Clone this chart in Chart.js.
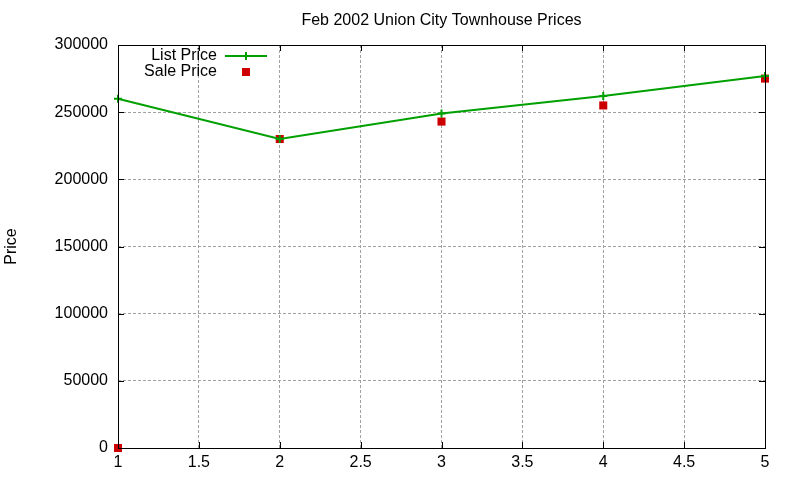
<!DOCTYPE html>
<html>
<head>
<meta charset="utf-8">
<script src="https://cdn.jsdelivr.net/npm/chart.js@4"></script>
<style>
  html, body { margin: 0; padding: 0; background: #fff; }
</style>
</head>
<body>
<canvas id="myChart" width="800" height="480"></canvas>
<script>
// data
const xValues = [1, 2, 3, 4, 5];
const listPrice = [260000, 230000, 249000, 262000, 277000];
const salePrice = [0, 230000, 243000, 255000, 275000];
const seriesNames = ['List Price', 'Sale Price'];
const chartTitle = 'Feb 2002 Union City Townhouse Prices';
const yTitle = 'Price';

const FONT = '"Liberation Sans", Arial, sans-serif';
const green = '#00a000';
const red = '#cc0000';

// gnuplot style box: border all round + inward ticks on every side
var boxPlugin = {
    id: 'box',
    afterDatasetsDraw: function(chart) {
        var ctx = chart.ctx;
        var a = chart.chartArea;
        var xs = chart.scales.x, ys = chart.scales.y;
        ctx.save();
        ctx.strokeStyle = '#000';
        ctx.lineWidth = 1;
        ctx.beginPath();
        xs.ticks.forEach(function(t) {
            var px = Math.round(xs.getPixelForValue(t.value)) + 0.5;
            ctx.moveTo(px, a.bottom); ctx.lineTo(px, a.bottom - 6);
            ctx.moveTo(px, a.top); ctx.lineTo(px, a.top + 6);
        });
        ys.ticks.forEach(function(t) {
            var py = Math.round(ys.getPixelForValue(t.value)) + 0.5;
            ctx.moveTo(a.left, py); ctx.lineTo(a.left + 6, py);
            ctx.moveTo(a.right, py); ctx.lineTo(a.right - 6, py);
        });
        ctx.stroke();
        ctx.strokeRect(Math.round(a.left) + 0.5, Math.round(a.top) + 0.5,
                       Math.round(a.right - a.left), Math.round(a.bottom - a.top));
        ctx.restore();
    },
    afterDraw: function(chart) {
        var ctx = chart.ctx;
        var a = chart.chartArea;
        var ds = chart.data.datasets;
        ctx.save();
        ctx.font = '16px ' + FONT;
        ctx.fillStyle = '#000';
        ctx.textBaseline = 'middle';
        // title centred over the plot box, like gnuplot does
        ctx.textAlign = 'center';
        ctx.fillText(chartTitle, (a.left + a.right) / 2, 21);
        // key in the top left corner, text first then the sample
        ctx.textAlign = 'right';
        ctx.fillText(ds[0].label, 217, 56);
        ctx.fillText(ds[1].label, 217, 72);
        ctx.strokeStyle = ds[0].borderColor;
        ctx.lineWidth = 2;
        ctx.beginPath();
        ctx.moveTo(225, 56); ctx.lineTo(267, 56);
        ctx.moveTo(246, 52); ctx.lineTo(246, 60);
        ctx.stroke();
        ctx.fillStyle = ds[1].backgroundColor;
        ctx.fillRect(242, 68, 8, 8);
        ctx.restore();
    }
};

var ctx = document.getElementById('myChart').getContext('2d');
var chart = new Chart(ctx, {
    type: 'scatter',
    data: {
        datasets: [{
            label: seriesNames[0],
            data: xValues.map(function(x, i) { return {x: x, y: listPrice[i]}; }),
            showLine: true,
            borderColor: green,
            backgroundColor: green,
            borderWidth: 2,
            pointStyle: 'cross',
            pointRadius: 4,
            pointBorderWidth: 2,
            clip: false
        }, {
            label: seriesNames[1],
            data: xValues.map(function(x, i) { return {x: x, y: salePrice[i]}; }),
            showLine: false,
            borderColor: red,
            backgroundColor: red,
            pointStyle: 'rect',
            pointRadius: 5.7,
            pointBorderWidth: 0,
            clip: false
        }]
    },
    options: {
        responsive: false,
        animation: false,
        devicePixelRatio: 1,
        layout: { padding: { right: 35, left: 0, bottom: 0, top: 45 } },
        plugins: {
            legend: { display: false },
            tooltip: { enabled: false },
            title: { display: false }
        },
        scales: {
            x: {
                type: 'linear',
                min: 1, max: 5,
                ticks: { stepSize: 0.5, color: '#000', padding: 5, maxRotation: 0,
                         font: { family: FONT, size: 16 },
                         callback: function(v) { return String(v); } },
                grid: { color: '#a0a0a0', drawTicks: false, tickLength: 0 },
                border: { display: false, dash: [3, 2] },
                afterFit: function(s) { s.height = 32; }
            },
            y: {
                min: 0, max: 300000,
                ticks: { stepSize: 50000, color: '#000', padding: 10,
                         font: { family: FONT, size: 16 },
                         callback: function(v) { return String(v); } },
                grid: { color: '#a0a0a0', drawTicks: false, tickLength: 0 },
                border: { display: false, dash: [3, 2] },
                title: { display: true, text: yTitle, color: '#000',
                         font: { family: FONT, size: 16 }, padding: { top: 2, bottom: 4 } },
                afterFit: function(s) { s.width = 118; }
            }
        }
    },
    plugins: [boxPlugin]
});
</script>
</body>
</html>
